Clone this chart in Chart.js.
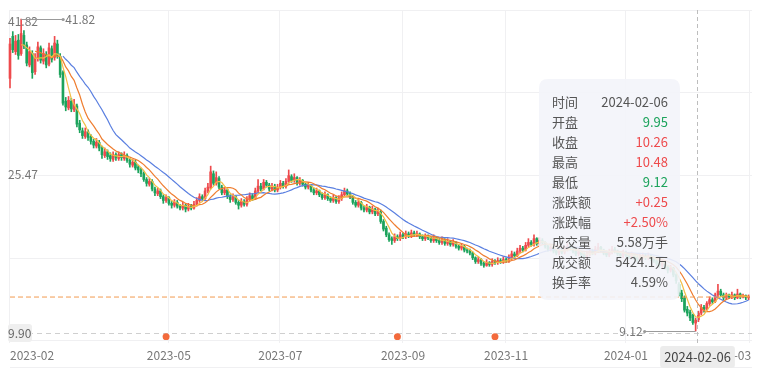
<!DOCTYPE html>
<html><head><meta charset="utf-8">
<script src="https://cdn.jsdelivr.net/npm/chart.js@4"></script>
<style>html,body{margin:0;padding:0;background:#fff;}#wrap{width:763px;height:368px;}</style>
</head><body><div id="wrap"><canvas id="c" width="763" height="368"></canvas></div>
<script>
// ---- data (one entry per trading day, 2023-02-08 .. 2024-03-12) ----
const opens = [
35.6,40.0,38.4,39.6,38.2,40.1,39.1,37.0,38.2,36.3,
37.7,38.8,37.4,38.1,37.1,38.7,37.8,39.2,37.9,36.2,
33.2,32.5,33.2,32.3,32.7,30.9,30.1,29.5,30.0,29.5,
29.0,28.5,28.9,28.3,27.5,27.9,27.5,27.1,27.6,27.2,
27.6,27.2,27.5,27.0,26.5,26.8,26.3,26.0,25.6,25.0,
24.5,24.8,24.0,23.5,23.8,23.2,22.8,23.1,22.5,22.3,
22.6,22.2,22.0,22.3,21.9,22.2,22.0,22.4,22.8,23.2,
23.0,23.8,24.1,25.6,24.6,25.1,24.2,23.6,23.9,23.2,
22.9,23.2,22.6,22.3,22.7,22.4,22.9,23.3,23.0,23.8,
24.3,24.0,24.7,24.4,24.0,24.3,23.9,24.2,24.6,24.3,
24.8,25.3,24.9,25.2,24.6,24.9,24.5,24.2,24.4,23.9,
23.6,23.8,23.4,23.1,23.4,23.0,22.8,23.1,22.7,23.0,
23.4,23.8,23.5,23.2,22.6,22.3,22.6,22.0,21.8,22.1,
21.6,21.9,21.4,21.6,20.6,19.9,19.2,18.8,18.6,19.0,
18.8,19.2,19.0,19.3,19.1,19.4,19.2,19.3,19.0,18.8,
19.1,18.9,18.6,18.9,18.6,18.4,18.7,18.3,18.5,18.2,
18.4,18.0,17.8,18.0,17.6,17.5,17.3,16.8,16.4,16.6,
16.2,16.0,16.3,16.1,16.4,16.3,16.5,16.4,16.6,16.5,
16.8,17.2,17.0,17.5,17.8,17.6,18.1,18.4,18.2,18.8,
18.3,18.6,18.4,18.0,17.7,17.9,17.5,17.3,17.6,17.4,
17.7,18.0,17.8,17.5,17.2,17.4,17.1,16.9,17.2,17.5,
17.3,17.7,17.9,17.6,17.3,17.1,17.4,17.7,17.5,17.2,
17.0,17.3,17.1,16.9,17.1,16.8,16.6,16.9,17.0,16.8,
17.0,16.7,16.5,16.2,16.0,16.3,15.8,15.5,15.7,15.0,
14.0,13.1,12.6,11.4,11.1,10.8,9.95,10.3,11.0,11.6,
11.4,12.0,12.4,12.2,12.9,13.3,12.9,12.6,12.9,12.7,
12.9,12.6,13.0,12.7,12.8,12.6];
const closes = [
39.2,38.6,39.5,38.0,40.3,39.0,37.2,38.4,36.2,37.8,
38.9,37.5,38.2,37.0,38.8,37.6,39.3,38.0,36.0,33.0,
32.6,33.3,32.4,32.9,30.8,30.2,29.6,30.0,29.4,29.0,
28.6,28.9,28.3,27.6,27.9,27.4,27.2,27.6,27.3,27.6,
27.3,27.5,27.0,26.6,26.8,26.2,26.0,25.6,25.0,24.6,
24.8,24.0,23.6,23.8,23.2,22.8,23.1,22.5,22.3,22.6,
22.2,22.0,22.3,21.9,22.2,22.0,22.4,22.8,23.2,23.0,
23.8,24.2,25.8,24.6,25.2,24.2,23.6,23.9,23.2,22.9,
23.2,22.6,22.3,22.7,22.4,22.9,23.3,23.0,23.8,24.3,
24.0,24.7,24.4,24.0,24.3,23.9,24.2,24.6,24.3,24.8,
25.4,24.9,25.2,24.6,24.9,24.5,24.2,24.4,23.9,23.6,
23.8,23.4,23.1,23.4,23.0,22.8,23.1,22.7,23.0,23.4,
23.8,23.5,23.2,22.6,22.3,22.6,22.0,21.8,22.1,21.6,
21.9,21.4,21.7,20.6,19.8,19.2,18.7,18.6,19.0,18.8,
19.2,19.0,19.3,19.1,19.4,19.2,19.3,19.0,18.8,19.1,
18.9,18.6,18.9,18.6,18.4,18.7,18.3,18.5,18.2,18.4,
18.0,17.8,18.0,17.6,17.5,17.3,16.8,16.4,16.6,16.2,
16.0,16.3,16.1,16.4,16.3,16.5,16.4,16.6,16.5,16.8,
17.2,17.0,17.5,17.8,17.6,18.1,18.4,18.2,18.8,18.3,
18.6,18.4,18.0,17.7,17.9,17.5,17.3,17.6,17.4,17.7,
18.0,17.8,17.5,17.2,17.4,17.1,16.9,17.2,17.5,17.3,
17.7,17.9,17.6,17.3,17.1,17.4,17.7,17.5,17.2,17.0,
17.3,17.1,16.9,17.1,16.8,16.6,16.9,17.0,16.8,17.0,
16.7,16.5,16.2,16.0,16.3,15.8,15.5,15.7,15.0,14.4,
13.0,12.5,11.3,11.0,10.5,10.01,10.26,11.0,11.6,11.4,
12.0,12.4,12.2,12.9,13.3,12.9,12.6,12.9,12.7,12.9,
12.6,13.0,12.7,12.8,12.6,12.68];
const highs = [
39.8,40.5,40.1,40.2,41.82,40.6,39.4,38.9,38.5,38.2,
39.4,39.0,38.7,38.4,39.3,39.0,40.0,39.6,38.2,36.4,
33.6,33.7,33.5,33.4,32.9,31.2,30.4,30.4,30.2,29.7,
29.2,29.3,29.1,28.5,28.3,28.1,27.8,27.9,27.8,27.9,
27.8,27.9,27.7,27.2,27.1,27.0,26.5,26.2,25.8,25.2,
25.1,25.0,24.2,24.1,24.0,23.4,23.4,23.2,22.7,22.9,
22.8,22.4,22.6,22.4,22.5,22.4,22.7,23.1,23.5,23.4,
24.1,24.6,26.4,25.9,25.8,25.3,24.4,24.2,24.0,23.4,
23.5,23.3,22.8,23.0,22.9,23.2,23.6,23.5,24.1,25.0,
24.6,25.0,24.9,24.6,24.6,24.5,24.5,24.9,24.8,25.1,
26.0,25.5,25.6,25.3,25.2,25.0,24.7,24.7,24.5,24.1,
24.1,23.9,23.6,23.7,23.5,23.2,23.4,23.2,23.3,23.7,
24.1,24.0,23.7,23.3,22.8,22.9,22.7,22.2,22.4,22.2,
22.2,22.0,22.0,21.8,20.8,20.1,19.4,19.0,19.3,19.2,
19.5,19.4,19.6,19.5,19.7,19.6,19.6,19.4,19.2,19.3,
19.2,19.0,19.2,19.0,18.8,19.0,18.8,18.8,18.6,18.7,
18.5,18.2,18.3,18.1,17.8,17.7,17.4,16.9,16.9,16.7,
16.4,16.6,16.4,16.7,16.6,16.8,16.7,16.9,16.8,17.1,
17.5,17.4,17.8,18.1,18.0,18.4,18.8,18.6,19.2,18.9,
18.9,18.8,18.5,18.1,18.2,18.0,17.7,17.9,17.8,18.0,
18.3,18.2,17.9,17.6,17.7,17.5,17.3,17.5,17.8,17.7,
18.0,18.3,18.0,17.7,17.5,17.7,18.0,17.9,17.6,17.4,
17.6,17.5,17.3,17.4,17.2,17.0,17.2,17.3,17.2,17.3,
17.1,16.9,16.6,16.4,16.6,16.4,16.0,16.0,15.8,15.1,
14.2,13.4,12.8,11.7,11.3,10.9,10.48,11.2,11.9,11.8,
12.2,12.7,12.6,13.1,14.0,13.5,13.1,13.1,13.0,13.2,
13.0,13.5,13.1,13.0,12.9,12.9];
const lows = [
34.6,38.3,38.1,37.6,38.0,38.7,36.9,36.8,35.6,36.0,
37.4,37.2,37.1,36.7,36.9,37.3,37.5,37.7,35.7,32.8,
32.2,32.3,32.1,32.1,30.5,29.9,29.3,29.3,29.1,28.7,
28.3,28.3,28.0,27.2,27.3,27.1,26.9,26.9,27.0,27.0,
27.0,27.0,26.8,26.3,26.3,26.0,25.7,25.3,24.8,24.3,
24.3,23.8,23.3,23.3,23.0,22.5,22.6,22.3,22.0,22.1,
22.0,21.8,21.8,21.6,21.7,21.8,21.9,22.2,22.6,22.8,
22.9,23.6,24.0,24.4,24.4,24.0,23.4,23.4,23.0,22.6,
22.7,22.4,21.9,22.1,22.2,22.2,22.7,22.8,22.9,23.6,
23.8,23.9,24.2,23.8,23.8,23.7,23.7,24.0,24.1,24.1,
24.6,24.7,24.7,24.4,24.4,24.3,24.0,24.0,23.7,23.4,
23.4,23.2,22.9,22.9,22.8,22.6,22.6,22.5,22.5,22.8,
23.2,23.3,23.0,22.4,22.1,22.1,21.8,21.6,21.6,21.4,
21.4,21.2,21.2,20.4,19.6,19.0,18.5,18.2,18.4,18.6,
18.6,18.8,18.8,18.9,18.9,19.0,19.0,18.8,18.6,18.6,
18.7,18.4,18.4,18.4,18.2,18.2,18.1,18.1,18.0,18.0,
17.8,17.6,17.6,17.4,17.3,17.1,16.6,16.2,16.2,16.0,
15.8,15.9,15.9,15.9,16.1,16.1,16.2,16.2,16.3,16.3,
16.6,16.8,16.9,17.3,17.4,17.5,17.9,18.0,18.0,18.1,
18.1,18.2,17.8,17.5,17.5,17.3,17.1,17.1,17.2,17.2,
17.5,17.6,17.3,17.0,17.0,16.9,16.7,16.7,17.0,17.1,
17.1,17.5,17.4,17.1,16.9,16.9,17.2,17.3,17.0,16.8,
16.8,16.9,16.7,16.7,16.6,16.4,16.4,16.7,16.6,16.6,
16.5,16.3,16.0,15.8,15.8,15.6,15.2,15.3,14.8,14.1,
12.8,12.2,11.1,10.7,10.2,9.8,9.12,10.1,10.8,11.1,
11.3,11.8,12.0,12.1,12.7,12.7,12.4,12.4,12.5,12.5,
12.4,12.5,12.5,12.6,12.4,12.4];

const maPeriods = [5, 10, 20];
const tickIndex  = [0, 57, 97, 141, 178, 221, 258];
const tickLabels = ['2023-02','2023-05','2023-07','2023-09','2023-11','2024-01','2024-03'];
const gridIndex  = [0, 57, 97, 141, 178, 221, 265.5];
const eventIndex = [56, 139, 174];
const lastPrice = 12.68;
const maxIndex = 4, maxPrice = 41.82;
const minIndex = 246, minPrice = 9.12;
const midPrice = 25.47;
const crossPrice = 8.91, crossLabel = '9.90';
const hoverIndex = 246, hoverDate = '2024-02-06';
const tipLabels = ['时间','开盘','收盘','最高','最低','涨跌额','涨跌幅','成交量','成交额','换手率'];
const tipValues = ['2024-02-06','9.95','10.26','10.48','9.12','+0.25','+2.50%','5.58万手','5424.1万','4.59%'];
const tipKinds  = ['n','d','u','u','d','u','u','n','n','n'];

// ---- styles ----
const UP = '#ee4a4c', DOWN = '#1ca35c';
const MA_COLORS = ['#f3bd45', '#ef7d2f', '#5a7fe0'];
const FONT = '"Noto Sans CJK SC", "Open Sans", sans-serif';
const Y_MIN = 8.177, Y_MAX = 42.763;
const yGrid = [Y_MAX, 34.12, midPrice, 16.82, Y_MIN];

function movingAverage(n) {
  const out = [];
  for (let i = n - 1; i < closes.length; i++) {
    let s = 0;
    for (let k = i - n + 1; k <= i; k++) s += closes[k];
    out.push({x: i, y: s / n});
  }
  return out;
}
const colorOf = closes.map((c, i) => c >= opens[i] ? UP : DOWN);

const datasets = [];
maPeriods.forEach((p, k) => datasets.push({
  type: 'line', label: 'MA' + p, data: movingAverage(p),
  borderColor: MA_COLORS[k], borderWidth: 1.2, pointRadius: 0, fill: false, order: 1
}));
datasets.push({
  type: 'line', label: 'last', data: [{x: 0, y: lastPrice}, {x: 265.5, y: lastPrice}],
  borderColor: '#f29a50', borderWidth: 1, borderDash: [5, 3], pointRadius: 0, order: 0
});
datasets.push({
  type: 'bar', label: 'body', grouped: false,
  data: closes.map((c, i) => ({x: i, y: [opens[i], c]})),
  backgroundColor: colorOf, barThickness: 2, minBarLength: 1, borderWidth: 0, order: 2
});
datasets.push({
  type: 'bar', label: 'wick', grouped: false,
  data: highs.map((h, i) => ({x: i, y: [lows[i], h]})),
  backgroundColor: colorOf, barThickness: 1, borderWidth: 0, order: 3
});
datasets.push({
  type: 'scatter', label: 'events',
  data: eventIndex.map(i => ({x: i, y: 8.52})),
  backgroundColor: '#f36a3c', borderWidth: 0, pointRadius: 3.5, order: 0
});

function rr(ctx, x, y, w, h, r) {
  ctx.beginPath();
  ctx.moveTo(x + r, y); ctx.lineTo(x + w - r, y); ctx.quadraticCurveTo(x + w, y, x + w, y + r);
  ctx.lineTo(x + w, y + h - r); ctx.quadraticCurveTo(x + w, y + h, x + w - r, y + h);
  ctx.lineTo(x + r, y + h); ctx.quadraticCurveTo(x, y + h, x, y + h - r);
  ctx.lineTo(x, y + r); ctx.quadraticCurveTo(x, y, x + r, y); ctx.closePath();
}
function seg(ctx, x1, y1, x2, y2) { ctx.beginPath(); ctx.moveTo(x1, y1); ctx.lineTo(x2, y2); ctx.stroke(); }

const decor = {
  id: 'decor',
  beforeDatasetsDraw(chart) {
    const {ctx, chartArea: a, scales: {x, y}} = chart;
    ctx.save();
    ctx.strokeStyle = '#f0f0f2'; ctx.lineWidth = 1;
    yGrid.forEach(v => { const py = Math.round(y.getPixelForValue(v)) + 0.5; seg(ctx, a.left, py, a.right + 2, py); });
    gridIndex.forEach(v => { const px = Math.round(x.getPixelForValue(v)) - 0.5; seg(ctx, px, a.top, px, a.bottom + 3); });
    seg(ctx, a.left, 367.5, a.right + 2, 367.5);
    ctx.strokeStyle = '#cfcfcf'; ctx.setLineDash([5, 4]);
    const cy = Math.round(y.getPixelForValue(crossPrice)) + 0.5;
    seg(ctx, a.left, cy, a.right + 2, cy);
    ctx.restore();
  },
  afterDatasetsDraw(chart) {
    const {ctx, chartArea: a, scales: {x, y}} = chart;
    ctx.save();
    ctx.textBaseline = 'middle';
    const hx = Math.round(x.getPixelForValue(hoverIndex)) + 1.5;
    ctx.strokeStyle = '#bdbdbd'; ctx.setLineDash([4, 3]); ctx.lineWidth = 1;
    seg(ctx, hx, a.top, hx, 368);
    ctx.setLineDash([]);
    ctx.font = '12px ' + FONT; ctx.fillStyle = '#777'; ctx.textAlign = 'left';
    ctx.fillText(maxPrice.toFixed(2), 8, y.getPixelForValue(maxPrice) + 2);
    ctx.fillText(midPrice.toFixed(2), 8, y.getPixelForValue(midPrice) - 1);
    const mx = x.getPixelForValue(maxIndex), my = Math.round(y.getPixelForValue(maxPrice)) + 0.5;
    ctx.strokeStyle = '#9a9a9a'; seg(ctx, mx, my, mx + 42, my);
    ctx.fillStyle = '#9a9a9a'; ctx.beginPath(); ctx.arc(mx + 42, my, 1.6, 0, Math.PI * 2); ctx.fill();
    ctx.fillStyle = '#777'; ctx.fillText(maxPrice.toFixed(2), mx + 44, my);
    const nx = x.getPixelForValue(minIndex), ny = Math.round(y.getPixelForValue(minPrice)) + 0.5;
    ctx.strokeStyle = '#9a9a9a'; seg(ctx, nx - 51, ny, nx, ny);
    ctx.fillStyle = '#9a9a9a'; ctx.beginPath(); ctx.arc(nx - 51, ny, 1.6, 0, Math.PI * 2); ctx.fill();
    ctx.fillStyle = '#777'; ctx.textAlign = 'right'; ctx.fillText(minPrice.toFixed(2), nx - 53, ny);
    const cy = y.getPixelForValue(crossPrice);
    ctx.fillStyle = '#efefef'; rr(ctx, 8, cy - 9, 24, 18, 3); ctx.fill();
    ctx.fillStyle = '#666'; ctx.textAlign = 'left'; ctx.fillText(crossLabel, 8, cy);
    ctx.fillStyle = '#777';
    tickIndex.forEach((t, k) => {
      const px = x.getPixelForValue(t);
      ctx.textAlign = k === 0 ? 'left' : 'center';
      ctx.fillText(tickLabels[k], k === 0 ? a.left : px, 355);
    });
    ctx.font = '13px ' + FONT;
    const w = ctx.measureText(hoverDate).width + 8;
    ctx.fillStyle = '#ececec'; rr(ctx, hx - w / 2, 346, w, 22, 3); ctx.fill();
    ctx.fillStyle = '#444'; ctx.textAlign = 'center'; ctx.fillText(hoverDate, hx, 357);
    ctx.fillStyle = 'rgba(243,244,250,0.9)'; rr(ctx, 539, 79, 141, 221, 9); ctx.fill();
    ctx.font = '13px ' + FONT;
    tipLabels.forEach((lab, k) => {
      const ty = 102.5 + k * 20;
      ctx.textAlign = 'left'; ctx.fillStyle = '#555'; ctx.fillText(lab, 552, ty);
      ctx.textAlign = 'right';
      ctx.fillStyle = tipKinds[k] === 'u' ? '#ee4a4c' : tipKinds[k] === 'd' ? '#1ca35c' : '#555';
      ctx.fillText(tipValues[k], 668, ty);
    });
    ctx.restore();
  }
};

Chart.defaults.font.family = FONT;
new Chart(document.getElementById('c'), {
  type: 'bar',
  data: {datasets},
  options: {
    responsive: false, animation: false,
    layout: {padding: {left: 10, top: 10, right: 13, bottom: 28}},
    plugins: {legend: {display: false}, tooltip: {enabled: false}},
    scales: {
      x: {type: 'linear', min: 0, max: 265.5, offset: false, display: false},
      y: {type: 'linear', min: Y_MIN, max: Y_MAX, display: false}
    },
    datasets: {bar: {clip: false}}
  },
  plugins: [decor]
});
</script></body></html>
